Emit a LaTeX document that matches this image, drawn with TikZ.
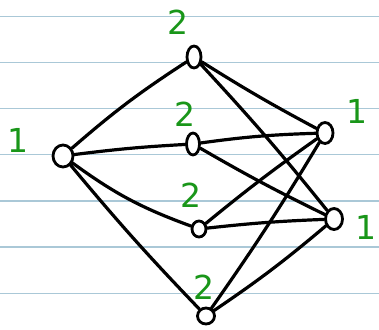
\documentclass[tikz,border=0pt]{standalone}
\usepackage{fontspec}
\setmainfont{DejaVu Sans}
\usetikzlibrary{shapes.geometric}
\definecolor{ruled}{RGB}{170,200,215}
\definecolor{pen}{RGB}{25,150,25}
\tikzset{
  vtx/.style={ellipse,draw=black,line width=2.8pt,fill=white,inner sep=0pt,minimum width=#1},
  vtx/.default=13pt,
  lbl/.style={text=pen,font=\fontsize{33}{33}\selectfont},
  edge/.style={line width=3.2pt,black,line cap=round,line join=round},
  rule/.style={ruled,line width=1.4pt}
}
\begin{document}
\begin{tikzpicture}[x=1pt,y=-1pt]
\useasboundingbox (0,0) rectangle (379,329);
\fill[white] (0,0) rectangle (379,329);
\foreach \yy in {16.7,62.7,108.7,154.7,201,247,293.3}
  \draw[rule] (0,\yy) -- (379,\yy);
% vertices
\node[vtx=20pt,minimum height=22pt] (L) at (63,156) {};
\node[vtx=14pt,minimum height=22pt] (T) at (194,57) {};
\node[vtx=13pt,minimum height=22pt] (M) at (193,144) {};
\node[vtx=14pt,minimum height=16pt] (LM) at (199,229) {};
\node[vtx=17pt,minimum height=16pt] (B) at (206,316) {};
\node[vtx=16pt,minimum height=21pt] (RU) at (325,133) {};
\node[vtx=17pt,minimum height=21pt] (RL) at (334,219) {};
% labels
\node[lbl] (lL) at (18,140) {1};
\node[lbl] (lT) at (178,22) {2};
\node[lbl] (lM) at (185,114) {2};
\node[lbl] (lLM) at (191,195) {2};
\node[lbl] (lB) at (204,287) {2};
\node[lbl] (lRU) at (357,111) {1};
\node[lbl] (lRL) at (366,227) {1};
% edges
\draw[edge] (L) to[bend left=4] (T);
\draw[edge] (L) to[bend left=2] (M);
\draw[edge] (L) to[bend right=8] (LM);
\draw[edge] (L) to[bend right=2] (B);
\draw[edge] (T) to[bend right=2] (RU);
\draw[edge] (T) to[bend left=2] (RL);
\draw[edge] (M) to[bend left=3] (RU);
\draw[edge] (M) to[bend right=2] (RL);
\draw[edge] (LM) to[bend left=2] (RU);
\draw[edge] (LM) to[bend left=2] (RL);
\draw[edge] (B) to[bend right=2] (RU);
\draw[edge] (B) to[bend right=3] (RL);
\end{tikzpicture}
\end{document}
